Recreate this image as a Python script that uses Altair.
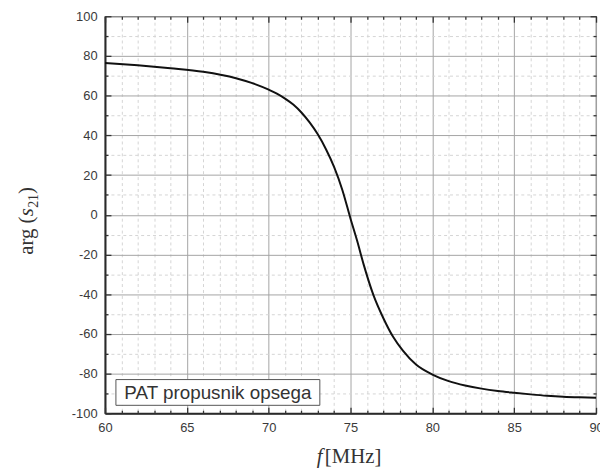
import altair as alt
import pandas as pd

# ---- data ----
freq = [60, 62, 64, 66, 68, 69, 70, 70.5, 71, 71.5, 72, 72.5, 73, 73.5, 74, 74.5, 75,
        75.4, 75.8, 76.4, 77, 77.6, 78.2, 79, 80, 81, 82, 83, 84, 85, 86, 87, 88, 89, 90]
phase = [76.5, 75.3, 73.8, 72, 68.8, 66.3, 63, 61, 58.5, 55.5, 51.5, 46.5, 40.5, 33, 24,
         12.5, -2, -13, -25, -40.5, -52, -61.5, -68.5, -75.5, -80.5, -83.8, -86, -87.6,
         -88.8, -89.7, -90.5, -91.2, -91.7, -92, -92.2]

x_major = [60, 65, 70, 75, 80, 85, 90]
x_minor = [v for v in range(60, 91) if v % 5 != 0]
y_major = [-100, -80, -60, -40, -20, 0, 20, 40, 60, 80, 100]
y_minor = [-90, -70, -50, -30, -10, 10, 30, 50, 70, 90]

legend_text = ["PAT propusnik opsega"]
x_title = ["f", "[MHz]"]
y_title = ["arg (", "s", "21", ")"]

df = pd.DataFrame({"f": freq, "phase": phase})
one = pd.DataFrame({"k": [0]})

W, H = 496, 401
xs = alt.Scale(domain=[60, 90], nice=False, zero=False)
ys = alt.Scale(domain=[-100, 100], nice=False, zero=False)

LBL = dict(labelFont="Liberation Sans", labelFontSize=13, labelColor="#3a3a3a")


def main_axis(orient, values):
    return alt.Axis(orient=orient, values=values, ticks=False, labels=True,
                    labelExpr="datum.value + ''",
                    labelPadding=8, labelFlush=False, labelOverlap=False,
                    domain=True, domainColor="#2a2a2a", domainWidth=2,
                    grid=True, gridColor="#a4a4a4", gridWidth=1, title=None,
                    zindex=0, **LBL)


def grid_axis(orient, values):
    return alt.Axis(orient=orient, values=values, ticks=False, labels=False,
                    domain=False, grid=True, gridColor="#d4d4d4", gridWidth=1,
                    gridDash=[3, 3], title=None, zindex=0)


def tick_axis(orient, values, size):
    return alt.Axis(orient=orient, values=values, ticks=True, tickSize=size,
                    tickColor="#333333", tickWidth=1.3, offset=-size,
                    labels=False, domain=False, grid=False, title=None, zindex=1)


base = alt.Chart(df)

line = base.mark_line(color="#111111", strokeWidth=2, interpolate="monotone").encode(
    x=alt.X("f:Q", scale=xs, axis=main_axis("bottom", x_major)),
    y=alt.Y("phase:Q", scale=ys, axis=main_axis("left", y_major)),
)

minor_grid = base.mark_line(opacity=0).encode(
    x=alt.X("f:Q", scale=xs, axis=grid_axis("bottom", x_minor)),
    y=alt.Y("phase:Q", scale=ys, axis=grid_axis("left", y_minor)),
)

ticks_bl_minor = base.mark_line(opacity=0).encode(
    x=alt.X("f:Q", scale=xs, axis=tick_axis("bottom", x_minor, 3)),
    y=alt.Y("phase:Q", scale=ys, axis=tick_axis("left", y_minor, 3)),
)
ticks_bl_major = base.mark_line(opacity=0).encode(
    x=alt.X("f:Q", scale=xs, axis=tick_axis("bottom", x_major, 6)),
    y=alt.Y("phase:Q", scale=ys, axis=tick_axis("left", y_major, 6)),
)
ticks_tr_minor = base.mark_line(opacity=0).encode(
    x=alt.X("f:Q", scale=xs, axis=tick_axis("top", x_minor, 3)),
    y=alt.Y("phase:Q", scale=ys, axis=tick_axis("right", y_minor, 3)),
)
ticks_tr_major = base.mark_line(opacity=0).encode(
    x=alt.X("f:Q", scale=xs, axis=tick_axis("top", x_major, 6)),
    y=alt.Y("phase:Q", scale=ys, axis=tick_axis("right", y_major, 6)),
)

# legend box
leg_box = alt.Chart(one).mark_rect(fill="white", stroke="#555555", strokeWidth=1).encode(
    x=alt.value(11), x2=alt.value(217), y=alt.value(367), y2=alt.value(393)
)
leg_txt = alt.Chart(one).mark_text(
    text=legend_text[0], font="Liberation Sans", fontSize=19, color="#333333",
    align="center", baseline="middle"
).encode(x=alt.value(114), y=alt.value(380.5))

# x title
SERIF = "Liberation Serif"
xt1 = alt.Chart(one).mark_text(text=x_title[0], font=SERIF, fontSize=21, fontStyle="italic",
                               color="#333333", align="left", baseline="alphabetic"
                               ).encode(x=alt.value(214), y=alt.value(451))
xt2 = alt.Chart(one).mark_text(text=x_title[1], font=SERIF, fontSize=21,
                               color="#333333", align="left", baseline="alphabetic"
                               ).encode(x=alt.value(222), y=alt.value(451))

# y title (rotated pieces)
yt1 = alt.Chart(one).mark_text(text=y_title[0], font=SERIF, fontSize=21, angle=270,
                               color="#333333", align="left", baseline="alphabetic"
                               ).encode(x=alt.value(-73), y=alt.value(241))
yt2 = alt.Chart(one).mark_text(text=y_title[1], font=SERIF, fontSize=21, angle=270,
                               fontStyle="italic", color="#333333", align="left",
                               baseline="alphabetic").encode(x=alt.value(-73), y=alt.value(202))
yt3 = alt.Chart(one).mark_text(text=y_title[2], font=SERIF, fontSize=14, angle=270,
                               color="#333333", align="left", baseline="alphabetic"
                               ).encode(x=alt.value(-68), y=alt.value(193.5))
yt4 = alt.Chart(one).mark_text(text=y_title[3], font=SERIF, fontSize=21, angle=270,
                               color="#333333", align="left", baseline="alphabetic"
                               ).encode(x=alt.value(-73), y=alt.value(179.5))

chart = alt.layer(
    minor_grid, line, ticks_bl_minor, ticks_bl_major, ticks_tr_minor, ticks_tr_major,
    leg_box, leg_txt, xt1, xt2, yt1, yt2, yt3, yt4
).resolve_axis(x="independent", y="independent").properties(
    width=W, height=H,
    autosize=alt.AutoSizeParams(type="none"),
    padding={"left": 98, "top": 6, "right": 4, "bottom": 55},
).configure_view(stroke="#444444", strokeWidth=1.2)

chart.save("out.html", embed_options={"renderer": "svg", "actions": False})
